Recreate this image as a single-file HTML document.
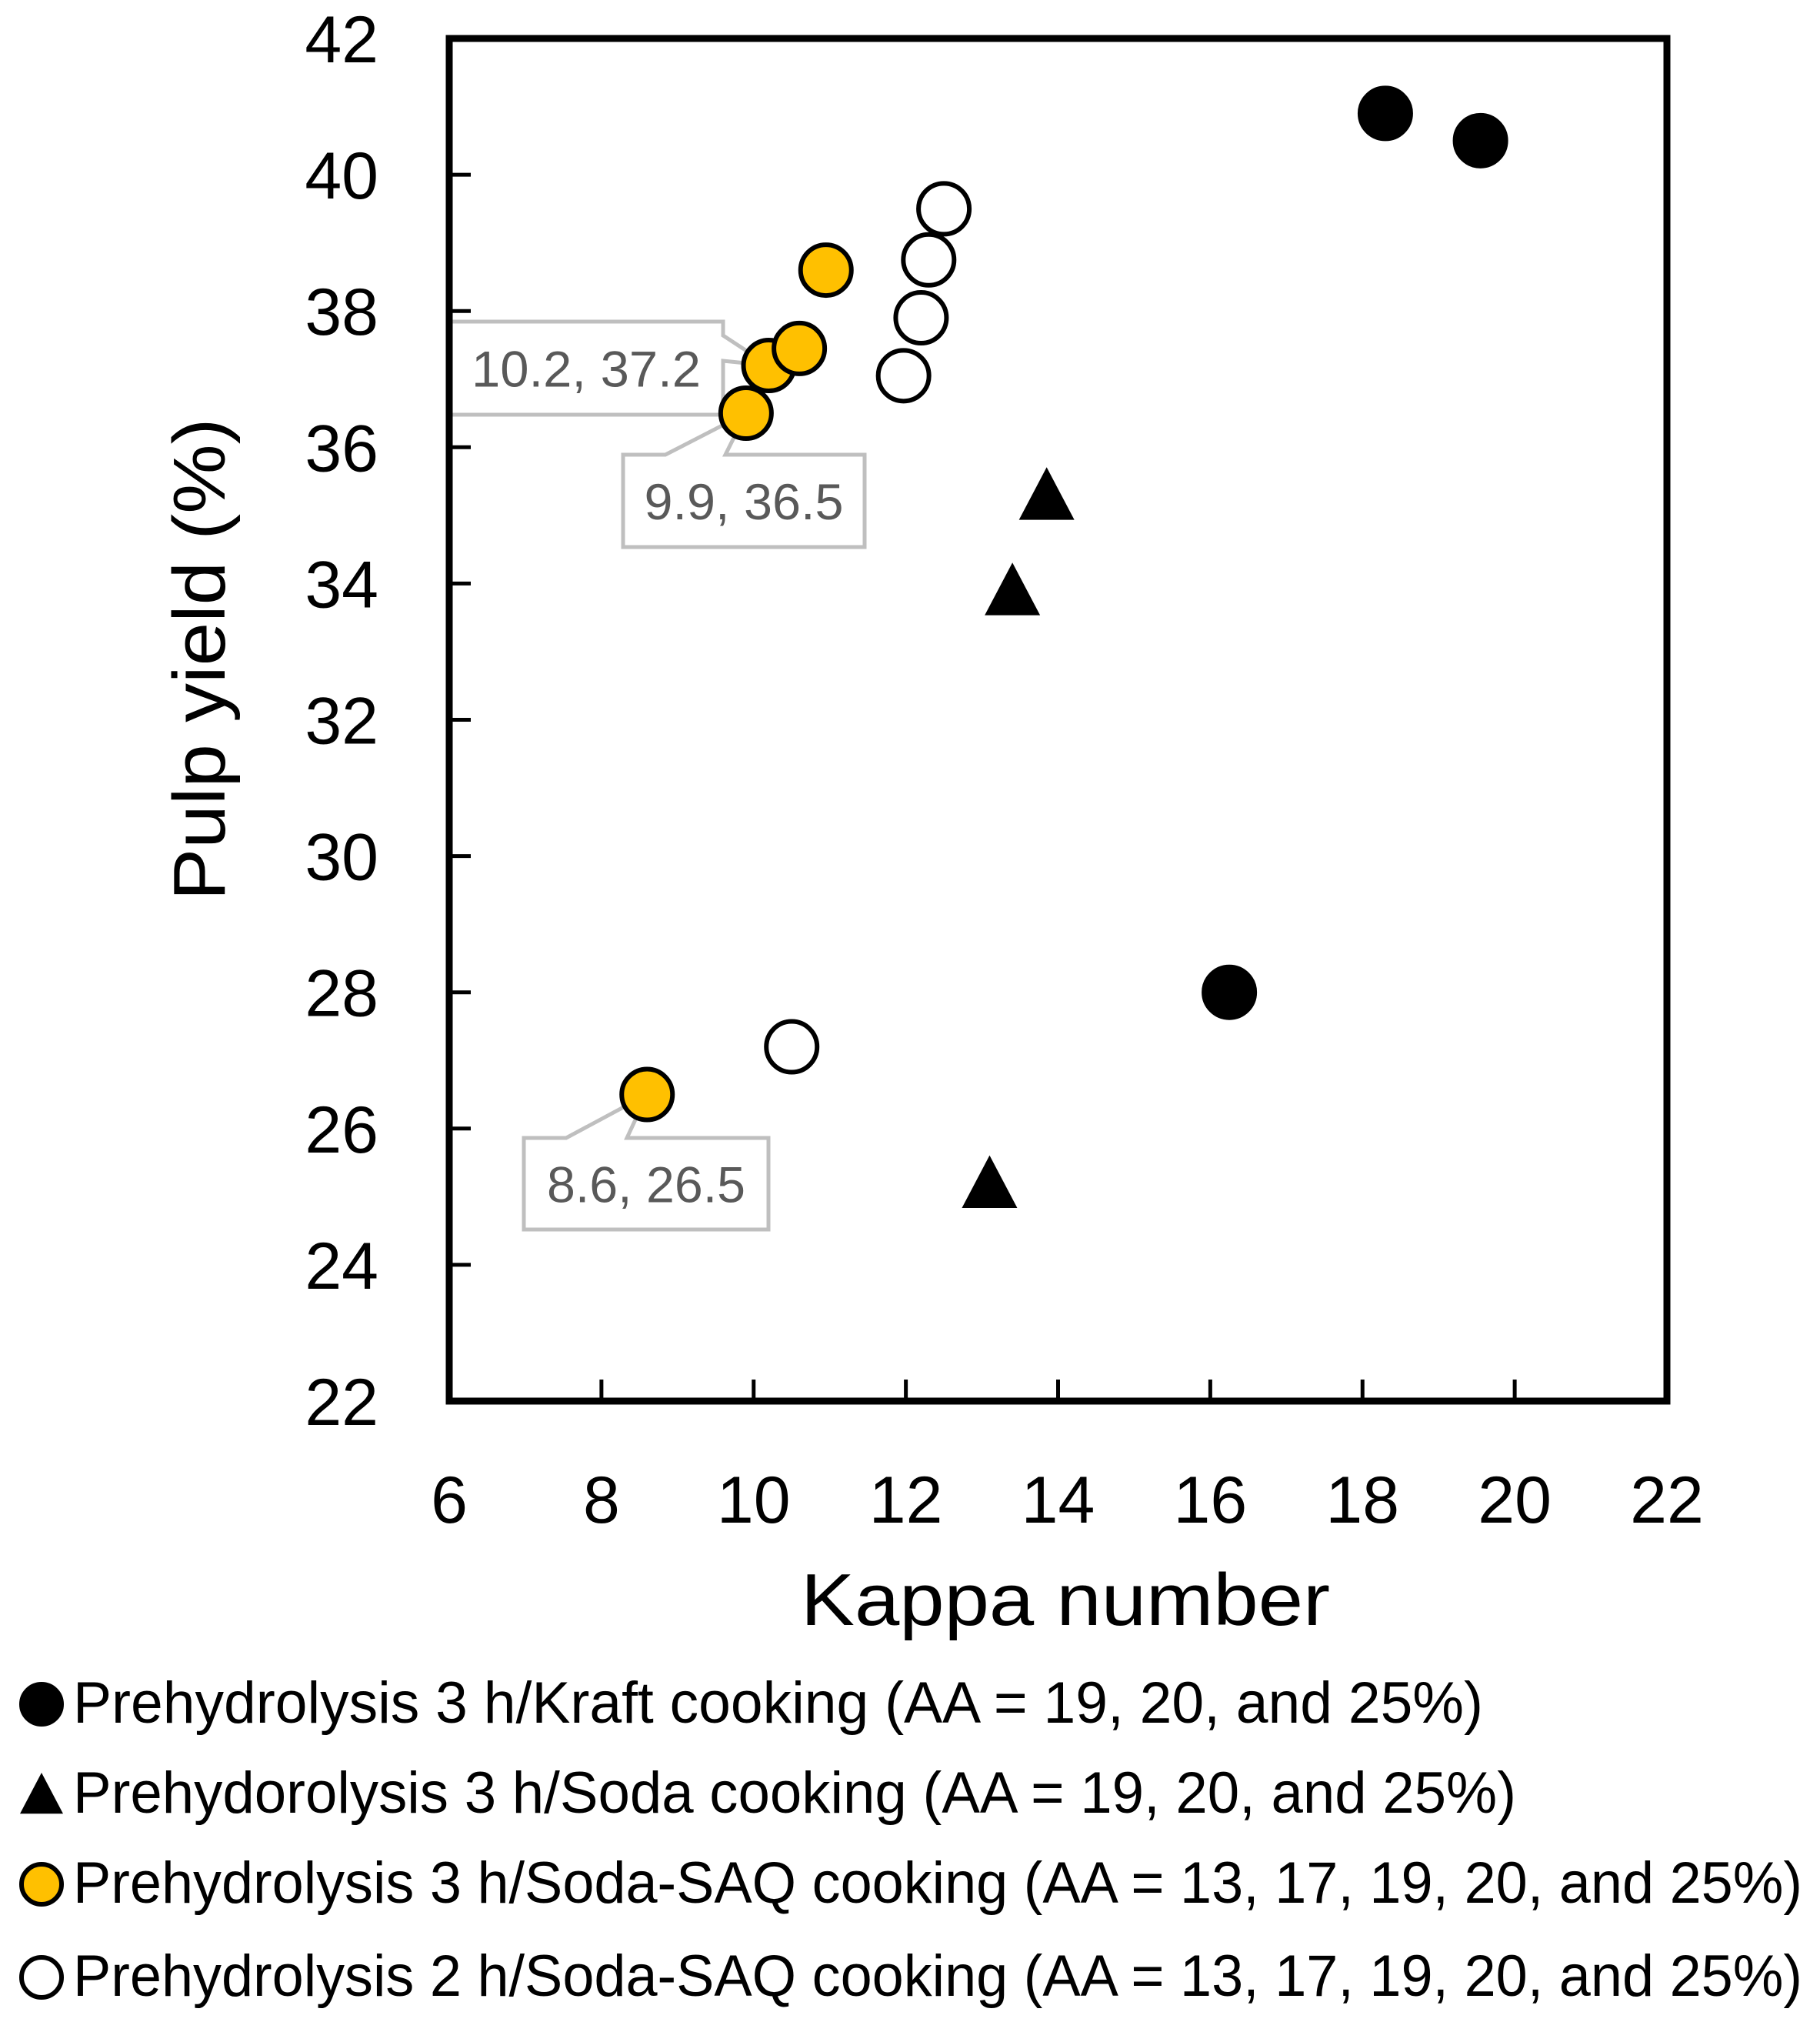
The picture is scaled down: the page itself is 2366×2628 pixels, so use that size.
<!DOCTYPE html>
<html><head><meta charset="utf-8"><style>
html,body{margin:0;padding:0;background:#fff;}
svg{display:block;font-family:"Liberation Sans",sans-serif;}
</style></head><body>
<svg id="chart" width="2366" height="2628" viewBox="0 0 2366 2628" xmlns="http://www.w3.org/2000/svg">
<rect width="2366" height="2628" fill="#fff"/>
<g id="callouts"></g>
<g id="marks"></g>
<g id="axes"></g>
<text x="0" y="0" transform="translate(292,857) rotate(-90)" text-anchor="middle" font-size="96" textLength="627" lengthAdjust="spacingAndGlyphs">Pulp yield (%)</text>
<text x="1385" y="2112" text-anchor="middle" font-size="96" textLength="688" lengthAdjust="spacingAndGlyphs">Kappa number</text>
<g id="legend"></g>
</svg>
<script>
const xTicks=[6,8,10,12,14,16,18,20,22];
const yTicks=[22,24,26,28,30,32,34,36,38,40,42];
const kraftX=[18.3,19.55,16.25];
const kraftY=[40.9,40.5,28.0];
const sodaX=[13.85,13.4,13.1];
const sodaY=[35.3,33.9,25.2];
const saq3X=[8.6,9.9,10.2,10.6,10.95];
const saq3Y=[26.5,36.5,37.2,37.45,38.6];
const saq2X=[10.5,11.97,12.2,12.3,12.5];
const saq2Y=[27.2,37.05,37.9,38.75,39.5];
const legendLabels=["Prehydrolysis 3 h/Kraft cooking (AA = 19, 20, and 25%)","Prehydorolysis 3 h/Soda cooking (AA = 19, 20, and 25%)","Prehydrolysis 3 h/Soda-SAQ cooking (AA = 13, 17, 19, 20, and 25%)","Prehydrolysis 2 h/Soda-SAQ cooking (AA = 13, 17, 19, 20, and 25%)"];
const calloutText=["10.2, 37.2","9.9, 36.5","8.6, 26.5"];

const L=584,R=2167,T=50,B=1821;
const xs=v=>L+(v-6)/16*(R-L);
const ys=v=>B-(v-22)/20*(B-T);
const NS="http://www.w3.org/2000/svg";
function mk(tag,attrs,parent){const e=document.createElementNS(NS,tag);for(const k in attrs)e.setAttribute(k,attrs[k]);parent.appendChild(e);return e;}
const axes=document.getElementById('axes'),marks=document.getElementById('marks'),leg=document.getElementById('legend'),co=document.getElementById('callouts');

let frame=mk('rect',{x:L,y:T,width:R-L,height:B-T,fill:'none',stroke:'#000','stroke-width':9},axes);


xTicks.forEach(v=>{
  if(v>6&&v<22){let t=mk('line',{x1:xs(v),x2:xs(v),y1:B,y2:B-28,stroke:'#000','stroke-width':5},axes);
  
  }
  let l=mk('text',{x:xs(v),y:1979,'text-anchor':'middle','font-size':86},axes);l.textContent=v;
  
  
});
yTicks.forEach(v=>{
  if(v>22&&v<42){let t=mk('line',{x1:L,x2:L+28,y1:ys(v),y2:ys(v),stroke:'#000','stroke-width':5},axes);
  
  }
  let l=mk('text',{x:492,y:ys(v)+31,'text-anchor':'end','font-size':86},axes);l.textContent=v;
  
  
});

function circ(x,y,fill,parent,r){return mk('circle',{cx:x,cy:y,r:r||33,fill:fill,stroke:'#000','stroke-width':6},parent);}
function tri(x,y,parent,s){s=s||36;return mk('polygon',{points:`${x},${y-s} ${x+s},${y+s*0.9} ${x-s},${y+s*0.9}`,fill:'#000'},parent);}
kraftX.forEach((v,i)=>{let c=circ(xs(v),ys(kraftY[i]),'#000',marks);
  
  });
sodaX.forEach((v,i)=>{let c=tri(xs(v),ys(sodaY[i]),marks);
  
  });
saq3X.forEach((v,i)=>{let c=circ(xs(v),ys(saq3Y[i]),'#FFC000',marks);
  
  });
saq2X.forEach((v,i)=>{let c=circ(xs(v),ys(saq2Y[i]),'#fff',marks);
  
  });

function callout(bx,by,bw,bh,ptsPath,txt,tl){
  let p=mk('path',{d:ptsPath,fill:'#fff',stroke:'#bfbfbf','stroke-width':5,'stroke-linejoin':'miter'},co);
  
  
  let t=mk('text',{x:bx+bw/2,y:by+bh/2+24,'text-anchor':'middle','font-size':66,fill:'#595959',textLength:tl,lengthAdjust:'spacingAndGlyphs'},co);t.textContent=txt;
  
  
}
{let px=xs(saq3X[2]),py=ys(saq3Y[2]);
callout(584,418,356,121,`M584,418 H940 V436 L${px},${py} L940,469 V539 H584 Z`,calloutText[0],298);}
{let px=xs(saq3X[1]),py=ys(saq3Y[1]);
callout(810,591,314,120,`M810,591 H865 L${px},${py} L943,591 H1124 V711 H810 Z`,calloutText[1],259);}
{let px=xs(saq3X[0]),py=ys(saq3Y[0]);
callout(681,1479,318,119,`M681,1479 H736 L${px},${py} L815,1479 H999 V1598 H681 Z`,calloutText[2],258);}

const lgY=[2239,2356,2473,2594], lgW=[1833,1876,2248,2248];
legendLabels.forEach((s,i)=>{
  let y=lgY[i]-24,m;
  if(i===0)m=circ(54,y,'#000',leg,26);
  else if(i===1)m=tri(54,y,leg,28);
  else if(i===2)m=circ(54,y,'#FFC000',leg,26);
  else m=circ(54,y,'#fff',leg,26);
  
  
  let t=mk('text',{x:95,y:lgY[i],'font-size':76,textLength:lgW[i],lengthAdjust:'spacingAndGlyphs'},leg);t.textContent=s;
  
  
});
</script>
</body></html>
